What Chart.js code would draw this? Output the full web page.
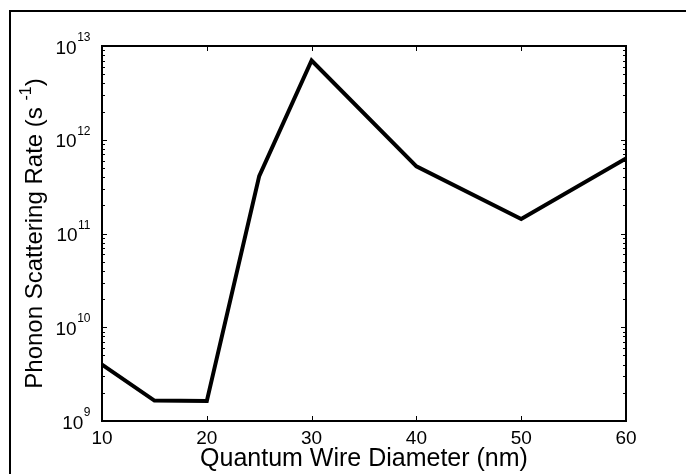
<!DOCTYPE html>
<html>
<head>
<meta charset="utf-8">
<title>Phonon Scattering Rate</title>
<script src="https://cdn.jsdelivr.net/npm/chart.js@4/dist/chart.umd.min.js"></script>
<style>
    html, body { margin: 0; padding: 0; background: #ffffff; }
    canvas { display: block; }
</style>
</head>
<body>
<canvas id="rateChart" width="686" height="474"></canvas>
<script>
// Values
const diameters = [10, 15, 20, 25, 30, 40, 50, 60];
const scatteringRates = [4.0e9, 1.65e9, 1.63e9, 4.1e11, 7.0e12, 5.2e11, 1.43e11, 6.3e11];

const xTickValues = [10, 20, 30, 40, 50, 60];
const yDecades = [9, 10, 11, 12, 13];
const yMinorSteps = [2, 3, 4, 5, 6, 7, 8, 9];

const FONT = "'Liberation Sans', Arial, Helvetica, sans-serif";

Chart.defaults.font.family = FONT;
Chart.defaults.color = '#000000';

// Matlab-style frame: box, inward ticks, 10^n labels, y title with superscript
const framePlugin = {
    id: 'matlabFrame',
    afterDraw(chart) {
        const ctx = chart.ctx;
        const area = chart.chartArea;
        const xScale = chart.scales.x;
        const yScale = chart.scales.y;

        ctx.save();
        ctx.strokeStyle = '#000000';

        // ticks on the x axis (bottom and top, pointing in)
        ctx.lineWidth = 1;
        xScale.ticks.forEach(t => {
            const px = Math.round(xScale.getPixelForValue(t.value)) + 0.5;
            ctx.beginPath();
            ctx.moveTo(px, area.bottom);
            ctx.lineTo(px, area.bottom - 5);
            ctx.moveTo(px, area.top);
            ctx.lineTo(px, area.top + 5);
            ctx.stroke();
        });

        // ticks on the y axis (left and right)
        yScale.ticks.forEach(t => {
            const py = Math.round(yScale.getPixelForValue(t.value)) + 0.5;
            const isMajor = Number.isInteger(Math.round(Math.log10(t.value) * 1000) / 1000);
            const len = isMajor ? 5 : 3;
            ctx.beginPath();
            ctx.moveTo(area.left, py);
            ctx.lineTo(area.left + len, py);
            ctx.moveTo(area.right, py);
            ctx.lineTo(area.right - len, py);
            ctx.stroke();
        });

        // plot box
        ctx.lineWidth = 2;
        ctx.strokeRect(area.left, area.top, area.right - area.left, area.bottom - area.top);

        // y tick labels: 10 with exponent
        ctx.fillStyle = '#000000';
        ctx.textBaseline = 'alphabetic';
        yDecades.forEach(exp => {
            const py = yScale.getPixelForValue(Math.pow(10, exp));
            ctx.font = `19px ${FONT}`;
            const baseW = ctx.measureText('10').width;
            ctx.font = `12px ${FONT}`;
            const expW = ctx.measureText(String(exp)).width;
            const right = area.left - 12;
            const startX = right - expW - baseW;
            ctx.font = `19px ${FONT}`;
            ctx.textAlign = 'left';
            ctx.fillText('10', startX, py + 7.5);
            ctx.font = `12px ${FONT}`;
            ctx.fillText(String(exp), startX + baseW + 0.5, py - 5);
        });

        // y axis title, rotated, with superscript -1
        const mainPart = 'Phonon Scattering Rate (s ';
        const supPart = '-1';
        const endPart = ')';
        ctx.font = `24px ${FONT}`;
        const w1 = ctx.measureText(mainPart).width;
        const w3 = ctx.measureText(endPart).width;
        ctx.font = `16px ${FONT}`;
        const w2 = ctx.measureText(supPart).width;
        const total = w1 + w2 + w3;
        const cy = (area.top + area.bottom) / 2;

        ctx.translate(42, cy);
        ctx.rotate(-Math.PI / 2);
        ctx.textAlign = 'left';
        ctx.font = `24px ${FONT}`;
        ctx.fillText(mainPart, -total / 2, 0);
        ctx.font = `16px ${FONT}`;
        ctx.fillText(supPart, -total / 2 + w1, -11);
        ctx.font = `24px ${FONT}`;
        ctx.fillText(endPart, -total / 2 + w1 + w2, 0);
        ctx.setTransform(1, 0, 0, 1, 0, 0);

        // outer figure border
        ctx.lineWidth = 2;
        ctx.strokeRect(10, 11, 1000, 1000);

        ctx.restore();
    }
};

const ctx = document.getElementById('rateChart').getContext('2d');

new Chart(ctx, {
    type: 'line',
    data: {
        datasets: [{
            label: 'Phonon scattering rate',
            data: diameters.map((d, i) => ({ x: d, y: scatteringRates[i] })),
            borderColor: '#000000',
            borderWidth: 4,
            borderJoinStyle: 'miter',
            pointRadius: 0,
            tension: 0,
            fill: false
        }]
    },
    options: {
        responsive: false,
        animation: false,
        layout: {
            padding: { left: 102, right: 60, top: 46, bottom: 0 }
        },
        plugins: {
            legend: { display: false },
            tooltip: { enabled: false }
        },
        scales: {
            x: {
                type: 'linear',
                min: 10,
                max: 60,
                afterBuildTicks: (scale) => {
                    scale.ticks = xTickValues.map(v => ({ value: v }));
                },
                afterFit: (scale) => {
                    scale.height = 53;
                },
                ticks: {
                    color: '#000000',
                    font: { size: 19 },
                    padding: -2,
                    maxRotation: 0,
                    autoSkip: false
                },
                grid: { display: false },
                border: { display: false },
                title: {
                    display: true,
                    text: 'Quantum Wire Diameter (nm)',
                    color: '#000000',
                    font: { size: 25 },
                    padding: 0
                }
            },
            y: {
                type: 'logarithmic',
                min: 1e9,
                max: 1e13,
                afterBuildTicks: (scale) => {
                    const ticks = [];
                    yDecades.forEach((exp, i) => {
                        ticks.push({ value: Math.pow(10, exp), major: true });
                        if (i < yDecades.length - 1) {
                            yMinorSteps.forEach(m => ticks.push({ value: m * Math.pow(10, exp) }));
                        }
                    });
                    scale.ticks = ticks;
                },
                afterFit: (scale) => {
                    scale.width = 0;
                },
                ticks: { display: false, autoSkip: false },
                grid: { display: false },
                border: { display: false }
            }
        }
    },
    plugins: [framePlugin]
});
</script>
</body>
</html>
